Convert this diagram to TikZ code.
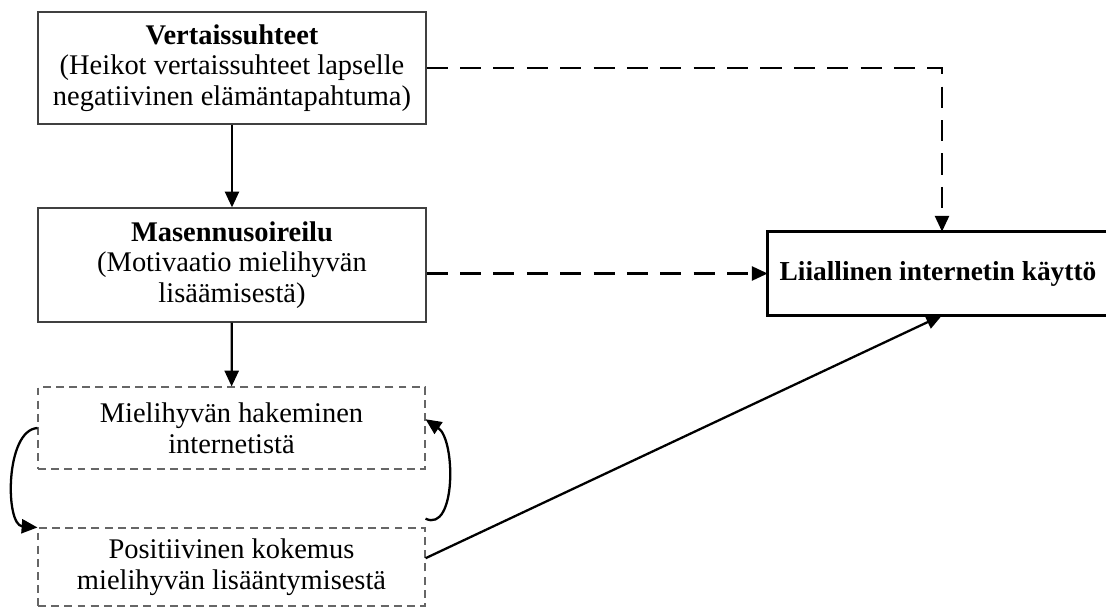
\documentclass[tikz,border=0pt]{standalone}
\usepackage{fontspec}
\setmainfont{Liberation Serif}
\usetikzlibrary{arrows.meta}
\begin{document}
\begin{tikzpicture}[x=0.02cm,y=-0.02cm,
  txt/.style={font=\fontsize{16.2}{17.5}\selectfont, align=center, inner sep=0pt},
  solidbox/.style={txt, draw=black!75, line width=0.7pt},
  dashbox/.style={txt, draw=black!60, line width=0.6pt, dash pattern=on 4.5pt off 3pt},
  bigtxt/.style={txt, font=\fontsize{15.6}{17.5}\selectfont},
  conn/.style={line width=1.3pt, -{Triangle[length=9pt,width=8pt]}},
  dconn/.style={conn, dash pattern=on 12pt off 7pt}]
\useasboundingbox (0,0) rectangle (1108,608);
\node[solidbox, minimum width=388*0.02cm, minimum height=112*0.02cm] (b1) at (232,68)
  {\textbf{Vertaissuhteet}\\(Heikot vertaissuhteet lapselle\\negatiivinen elämäntapahtuma)};
\node[solidbox, minimum width=388*0.02cm, minimum height=114*0.02cm] (b2) at (232,265)
  {\textbf{Masennusoireilu}\\(Motivaatio mielihyvän\\lisäämisestä)};
\node[dashbox, minimum width=387*0.02cm, minimum height=82*0.02cm] (b3) at (231.5,428)
  {Mielihyvän hakeminen\\internetistä};
\node[dashbox, minimum width=387*0.02cm, minimum height=78*0.02cm] (b4) at (231.5,567)
  {Positiivinen kokemus\\mielihyvän lisääntymisestä};
\node[bigtxt, minimum width=340*0.02cm, minimum height=83*0.02cm] (b5) at (938,273.5)
  {\textbf{Liiallinen internetin käyttö}};
\coordinate (r1) at (1106,232);
\coordinate (r2) at (1106,315);
\draw[line width=1.8pt] (r1 |- b5.north) -- (b5.north west) -- (b5.south west) -- (r2 |- b5.south);
\coordinate (c1) at (942,0);
\draw[conn] (b1) -- (b2);
\draw[conn] (b2) -- (b3);
\draw[dconn] (b1.east) -- (c1 |- b1.east) -- (c1 |- b5.north);
\draw[dconn] (b2.east |- b5.west) -- (b5.west);
\draw[conn] ([yshift=5]b4.east) -- (c1 |- b5.south);
\draw[conn] (b3.west) .. controls (5,430) and (5,525) .. (b4.north west);
\draw[conn] ([yshift=5]b4.north east) .. controls (456,533) and (456,440) .. ([yshift=5]b3.east);
\end{tikzpicture}
\end{document}
